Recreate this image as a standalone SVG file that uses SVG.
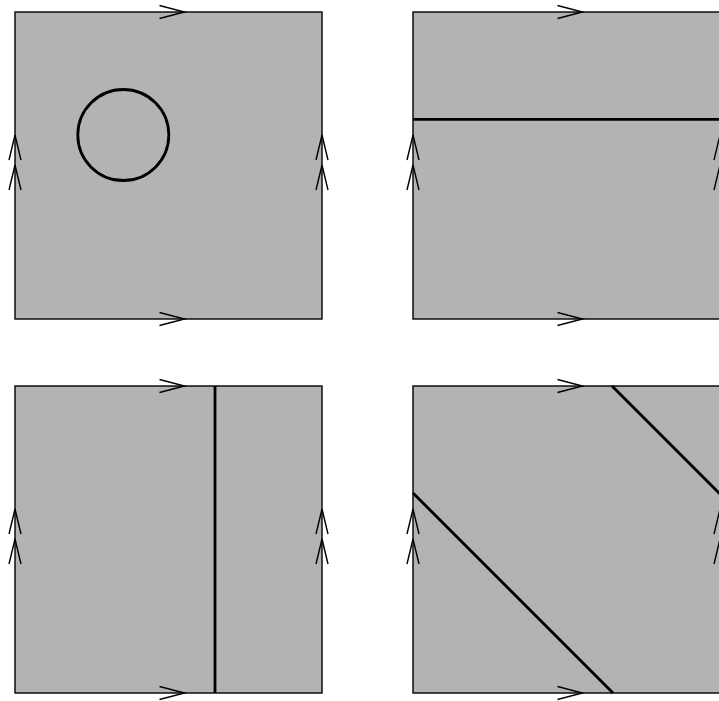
<svg xmlns="http://www.w3.org/2000/svg" width="719" height="701" viewBox="0 0 719 701">
<style>
.sq{fill:#b3b3b3;stroke:#000;stroke-width:1.4}
.ar{fill:none;stroke:#000;stroke-width:1.4;stroke-linejoin:miter}
.cut{fill:none;stroke:#000;stroke-width:2.8}
</style>
<defs>
<g id="tile">
<rect class="sq" x="0" y="0" width="307" height="307"/>
<path class="ar" d="M144.5,-6.5 L169.5,0 L144.5,6.5 M144.5,300.5 L169.5,307 L144.5,313.5"/>
<path class="ar" d="M-6,148 L0,123 L6,148 M-6,178 L0,153 L6,178 M301,148 L307,123 L313,148 M301,178 L307,153 L313,178"/>
</g>
</defs>
<g id="square1">
<use href="#tile" x="15" y="12"/>
<circle class="cut" cx="123.3" cy="135" r="45.5"/>
</g>
<g id="square2">
<use href="#tile" x="413" y="12"/>
<line class="cut" x1="413" y1="119.3" x2="720" y2="119.3"/>
</g>
<g id="square3">
<use href="#tile" x="15" y="386"/>
<line class="cut" x1="215" y1="386" x2="215" y2="693"/>
</g>
<g id="square4">
<use href="#tile" x="413" y="386"/>
<line class="cut" x1="413" y1="493" x2="613" y2="693"/>
<line class="cut" x1="612" y1="386" x2="720" y2="494"/>
</g>
</svg>
